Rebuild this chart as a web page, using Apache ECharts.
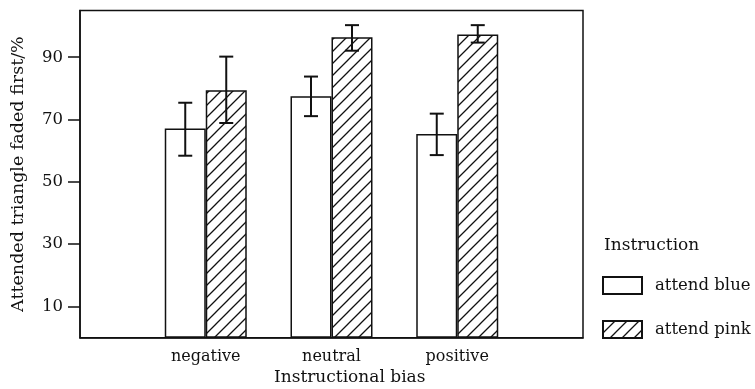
<!DOCTYPE html>
<html>
<head>
<meta charset="utf-8">
<script src="https://cdn.jsdelivr.net/npm/echarts@6/dist/echarts.min.js"></script>
<style>html,body{margin:0;padding:0;background:#fff;}#c{width:755px;height:389px;}</style>
</head>
<body>
<div id="c"></div>
<script>
var categories = ['', 'negative', 'neutral', 'positive', ''];
var blueValues = [null, 67.1, 77.5, 65.4, null];
var pinkValues = [null, 79.4, 96.4, 97.3, null];
var blueLow = [null, 58.4, 71.1, 58.6, null];
var blueHigh = [null, 75.4, 83.8, 71.9, null];
var pinkLow = [null, 68.9, 92.1, 94.7, null];
var pinkHigh = [null, 90.2, 100.3, 100.3, null];
var yTicks = [10, 30, 50, 70, 90];
var seriesNames = ['attend blue', 'attend pink'];

var FONT = 'DejaVu Serif';
var INK = '#111';

function hatch() {
  var s = 12;
  var c = document.createElement('canvas');
  c.width = s; c.height = s;
  var g = c.getContext('2d');
  g.fillStyle = '#fff';
  g.fillRect(0, 0, s, s);
  g.strokeStyle = INK;
  g.lineWidth = 1.3;
  g.beginPath();
  g.moveTo(0, s); g.lineTo(s, 0);
  g.moveTo(-2, 2); g.lineTo(2, -2);
  g.moveTo(s - 2, s + 2); g.lineTo(s + 2, s - 2);
  g.stroke();
  return c;
}
var pattern = { image: hatch(), repeat: 'repeat' };

function errData(low, high) {
  var out = [];
  for (var i = 0; i < low.length; i++) {
    if (low[i] != null) out.push([i, low[i], high[i]]);
  }
  return out;
}

function errRender(offset) {
  return function (params, api) {
    var x = api.value(0);
    var lo = api.coord([x, api.value(1)]);
    var hi = api.coord([x, api.value(2)]);
    var cx = lo[0] + offset;
    var half = 7;
    var st = { stroke: INK, lineWidth: 2 };
    return {
      type: 'group',
      children: [
        { type: 'line', shape: { x1: cx, y1: lo[1], x2: cx, y2: hi[1] }, style: st },
        { type: 'line', shape: { x1: cx - half, y1: lo[1], x2: cx + half, y2: lo[1] }, style: st },
        { type: 'line', shape: { x1: cx - half, y1: hi[1], x2: cx + half, y2: hi[1] }, style: st }
      ]
    };
  };
}

var chart = echarts.init(document.getElementById('c'), null, { renderer: 'canvas' });
chart.setOption({
  animation: false,
  backgroundColor: '#fff',
  textStyle: { fontFamily: FONT, color: INK },
  grid: {
    left: 80, right: 172, top: 10.5, bottom: 51.3,
    show: true, borderColor: INK, borderWidth: 1.5, backgroundColor: 'transparent'
  },
  xAxis: {
    type: 'category',
    data: categories,
    boundaryGap: false,
    axisLine: { lineStyle: { color: INK, width: 1.5 } },
    axisTick: { show: false },
    axisLabel: { fontFamily: FONT, fontSize: 16, color: INK, margin: 11, interval: 0 },
    splitLine: { show: false }
  },
  yAxis: {
    type: 'value',
    min: 0, max: 105,
    name: 'Attended triangle faded first/%',
    nameLocation: 'middle',
    nameGap: 53,
    nameTextStyle: { fontFamily: FONT, fontSize: 17.5, color: INK },
    axisLine: { show: true, lineStyle: { color: INK, width: 1.5 } },
    axisTick: { show: true, length: 12, customValues: yTicks, lineStyle: { color: INK, width: 1.5 } },
    axisLabel: { customValues: yTicks, fontFamily: FONT, fontSize: 16.5, color: INK, margin: 17 },
    splitLine: { show: false }
  },
  legend: {
    data: seriesNames,
    orient: 'vertical',
    left: 602, top: 276,
    itemWidth: 39, itemHeight: 17, itemGap: 25,
    padding: 0,
    icon: 'rect',
    textStyle: { fontFamily: FONT, fontSize: 16.5, color: INK, padding: [0, 0, 0, 8] }
  },
  graphic: [
    { type: 'text', left: 604, top: 237, style: { text: 'Instruction', font: '17px "DejaVu Serif"', fill: INK } },
    { type: 'text', left: 274, top: 369, style: { text: 'Instructional bias', font: '17px "DejaVu Serif"', fill: INK } }
  ],
  series: [
    {
      name: seriesNames[0], type: 'bar', data: blueValues,
      barWidth: 41, barGap: '0%',
      itemStyle: { color: '#fff', borderColor: INK, borderWidth: 1.5 }
    },
    {
      name: seriesNames[1], type: 'bar', data: pinkValues,
      barWidth: 41, barGap: '0%',
      itemStyle: { color: pattern, borderColor: INK, borderWidth: 1.5 }
    },
    {
      type: 'custom', data: errData(blueLow, blueHigh), renderItem: errRender(-20.5),
      encode: { x: 0, y: [1, 2] }, z: 5, silent: true
    },
    {
      type: 'custom', data: errData(pinkLow, pinkHigh), renderItem: errRender(20.5),
      encode: { x: 0, y: [1, 2] }, z: 5, silent: true
    }
  ]
});
</script>
</body>
</html>
